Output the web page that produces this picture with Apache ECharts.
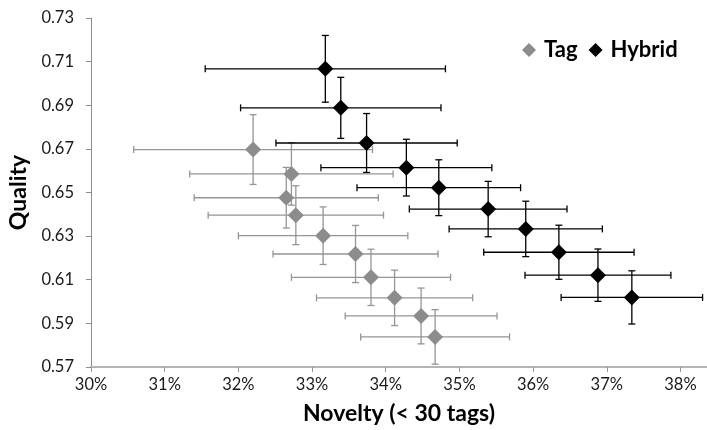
<!DOCTYPE html>
<html>
<head>
<meta charset="utf-8">
<script src="https://cdn.jsdelivr.net/npm/echarts@6/dist/echarts.min.js"></script>
<style>
  html, body { margin: 0; padding: 0; background: #fff; }
  #chart { width: 707px; height: 430px; }
</style>
</head>
<body>
<div id="chart"></div>
<script>
// tick labels
const xTicks = [30, 31, 32, 33, 34, 35, 36, 37, 38]
const yTicks = [0.57, 0.59, 0.61, 0.63, 0.65, 0.67, 0.69, 0.71, 0.73]

// Tag series (novelty in %, quality, error half-widths)
const tagX = [32.20, 32.72, 32.65, 32.78, 33.15, 33.59, 33.80, 34.12, 34.48, 34.67]
const tagY = [0.6697, 0.6585, 0.6476, 0.6396, 0.6302, 0.6218, 0.6111, 0.6017, 0.5934, 0.5838]
const tagXErr = [1.62, 1.38, 1.25, 1.19, 1.15, 1.12, 1.08, 1.06, 1.03, 1.01]
const tagYErr = [0.0160, 0.0143, 0.0139, 0.0135, 0.0132, 0.0131, 0.0129, 0.0127, 0.0128, 0.0125]

// Hybrid series
const hybridX = [33.18, 33.39, 33.74, 34.28, 34.72, 35.39, 35.90, 36.35, 36.88, 37.34]
const hybridY = [0.7067, 0.6888, 0.6727, 0.6614, 0.6522, 0.6424, 0.6333, 0.6226, 0.6121, 0.6019]
const hybridXErr = [1.63, 1.36, 1.23, 1.16, 1.11, 1.07, 1.04, 1.02, 0.99, 0.96]
const hybridYErr = [0.0153, 0.0140, 0.0135, 0.0130, 0.0128, 0.0127, 0.0127, 0.0124, 0.0120, 0.0122]

const FONT = 'Lato'
const TAG_COLOR = '#8c8c8c'
const HYBRID_COLOR = '#000000'

const chart = echarts.init(document.getElementById('chart'))

// 误差线
const errorBars = (color) => (params, api) => {
  const x = api.value(0)
  const y = api.value(1)
  const ex = api.value(2)
  const ey = api.value(3)
  const c = api.coord([x, y])
  const l = api.coord([x - ex, y])
  const r = api.coord([x + ex, y])
  const t = api.coord([x, y + ey])
  const b = api.coord([x, y - ey])
  const cap = 3.5
  const style = { stroke: color, lineWidth: 1.3, fill: null }
  const line = (x1, y1, x2, y2) => ({ type: 'line', shape: { x1, y1, x2, y2 }, style })
  return {
    type: 'group',
    children: [
      line(l[0], c[1], r[0], c[1]),
      line(l[0], c[1] - cap, l[0], c[1] + cap),
      line(r[0], c[1] - cap, r[0], c[1] + cap),
      line(c[0], t[1], c[0], b[1]),
      line(c[0] - cap, t[1], c[0] + cap, t[1]),
      line(c[0] - cap, b[1], c[0] + cap, b[1])
    ]
  }
}

const titleStyle = { fontFamily: FONT, fontWeight: 'bold', fontSize: 23, color: '#000' }

const options = {
  animation: false,
  grid: {
    left: 91, right: 0, top: 18, bottom: 63,
    containLabel: false,
    outerBoundsMode: 'none'
  },
  legend: {
    data: ['Tag', 'Hybrid'],
    left: 517,
    top: 34,
    icon: 'diamond',
    itemWidth: 14,
    itemHeight: 14,
    itemGap: 11,
    textStyle: { fontFamily: FONT, fontWeight: 'bold', fontSize: 22, color: '#000', padding: [0, 0, 0, 3] }
  },
  xAxis: {
    type: 'value',
    min: 30,
    max: 38.36,
    name: 'Novelty (< 30 tags)',
    nameLocation: 'middle',
    nameGap: 35,
    nameTextStyle: titleStyle,
    splitLine: { show: false },
    axisLine: { lineStyle: { color: '#b4b4b4', width: 2 } },
    axisTick: { customValues: xTicks, length: 5, lineStyle: { color: '#9a9a9a' } },
    axisLabel: {
      customValues: xTicks,
      formatter: '{value}%',
      margin: 9,
      fontFamily: FONT, fontSize: 16.5, color: '#1a1a1a'
    }
  },
  yAxis: {
    type: 'value',
    min: 0.57,
    max: 0.73,
    name: 'Quality',
    nameLocation: 'middle',
    nameGap: 51,
    nameTextStyle: titleStyle,
    splitLine: { show: false },
    axisLine: { show: true, lineStyle: { color: '#8c8c8c', width: 1 } },
    axisTick: { show: true, customValues: yTicks, length: 5, lineStyle: { color: '#8c8c8c' } },
    axisLabel: {
      customValues: yTicks,
      formatter: (v) => v.toFixed(2),
      margin: 17,
      fontFamily: FONT, fontSize: 16.5, color: '#1a1a1a'
    }
  },
  series: [
    {
      name: 'Tag',
      type: 'scatter',
      symbol: 'diamond',
      symbolSize: 16,
      z: 3,
      itemStyle: { color: TAG_COLOR, opacity: 1 },
      data: tagX.map((x, i) => [x, tagY[i]])
    },
    {
      name: 'Hybrid',
      type: 'scatter',
      symbol: 'diamond',
      symbolSize: 16,
      z: 4,
      itemStyle: { color: HYBRID_COLOR, opacity: 1 },
      data: hybridX.map((x, i) => [x, hybridY[i]])
    },
    {
      name: 'Tag',
      type: 'custom',
      z: 1,
      silent: true,
      renderItem: errorBars('#959595'),
      encode: { x: 0, y: 1 },
      data: tagX.map((x, i) => [x, tagY[i], tagXErr[i], tagYErr[i]])
    },
    {
      name: 'Hybrid',
      type: 'custom',
      z: 2,
      silent: true,
      renderItem: errorBars(HYBRID_COLOR),
      encode: { x: 0, y: 1 },
      data: hybridX.map((x, i) => [x, hybridY[i], hybridXErr[i], hybridYErr[i]])
    }
  ]
}

chart.setOption(options)
</script>
</body>
</html>
